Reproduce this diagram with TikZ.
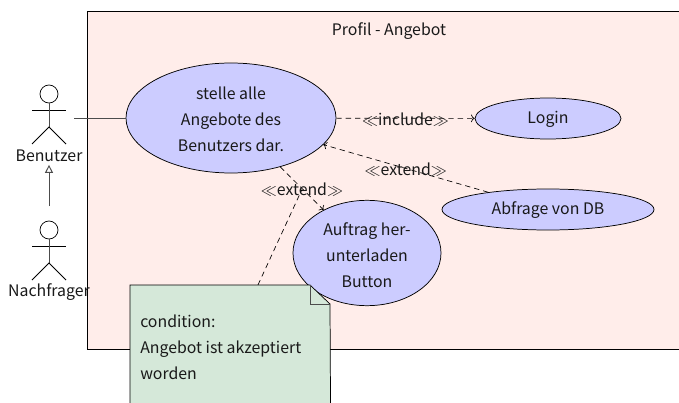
\documentclass[tikz,border=0pt]{standalone}
\usepackage{xcolor}
\usepackage{fontspec}
\setmainfont{Noto Sans CJK SC}
\usetikzlibrary{shapes,arrows,arrows.meta,positioning}
\definecolor{sysfill}{HTML}{FFEDEA}
\definecolor{casefill}{HTML}{CCCCFF}
\definecolor{notefill}{HTML}{D5E8D9}
\newcommand{\casestrut}[1]{\rule{0pt}{#1}}
\tikzstyle{line} = [draw, line width=0.5pt, dash pattern=on 4pt off 3pt, ->]
\tikzstyle{assoc} = [draw, black!70, line width=0.7pt]
\tikzstyle{usecase} = [draw, line width=0.55pt, ellipse, fill=casefill, align=center, inner sep=0pt]
\tikzstyle{actorhead} = [draw, line width=0.55pt, circle, minimum size=13.5pt, inner sep=0pt]
\tikzstyle{actorname} = [inner sep=0pt, yshift=-0.75pt]
\tikzstyle{rellabel} = [inner sep=0pt, yshift=-0.75pt]
\tikzset{
  actor/.pic={
    \draw[line width=0.55pt] (-17,0) -- (17,0);
    \draw[black!70, line width=0.7pt] (0,-7) -- (0,17);
    \draw[line width=0.55pt] (-17,34) -- (0,17) -- (17,34);
  }
}
\begin{document}
\begin{tikzpicture}[x=0.75pt, y=-0.75pt, font=\fontsize{11.9}{19.5}\selectfont, every node/.style={text=black!90}]
    \useasboundingbox (0,0) rectangle (679,403);
    % System
    \node [draw, line width=0.55pt, fill=sysfill, minimum width=444pt, minimum height=253.5pt, inner sep=0pt, anchor=north west] (system) at (87,11) {};
    \node [inner sep=0pt] (title) at (389,31) {Profil - Angebot};

    % Place nodes
    \node [usecase, minimum width=157.5pt, minimum height=82.5pt] (main) at (231,118) {\casestrut{11pt}stelle alle\\Angebote des\\Benutzers dar.};
    \node [usecase, minimum width=109.5pt, minimum height=30.75pt] (login) at (548,118.5) {\casestrut{11pt}Login};
    \node [usecase, minimum width=159pt, minimum height=30.75pt] (db) at (548,209.5) {\casestrut{11pt}Abfrage von DB};
    \node [usecase, minimum width=111pt, minimum height=79pt] (button) at (367,253) {\casestrut{12.5pt}Auftrag her-\\unterladen\\Button};

    % Actors
    \node [actorhead] (benutzerhead) at (49,94) {};
    \pic at (49,110) {actor};
    \node [actorname] (benutzer) at (49,155) {Benutzer};
    \node [actorhead] (nachfragerhead) at (49,230) {};
    \pic at (49,246) {actor};
    \node [actorname] (nachfrager) at (49,291) {Nachfrager};
    \coordinate (benutzerhand) at (74,118);

    \path [assoc] (benutzerhand) -- (main);
    \path [assoc, -{Triangle[open, length=6pt, width=6pt]}, shorten >=2pt] (nachfragerhead) ++(0,-24) -- (benutzer);

    % Relations
    \path [line] (main) -- node [rellabel] (inc) {$\ll$include$\gg$} (login);
    \path [line] (db) -- node [rellabel] (ext) {$\ll$extend$\gg$} (main);
    \path [line] (main) -- node [rellabel] (extbutton) {$\ll$extend$\gg$} (button);

    % Note
    \node [anchor=north west, minimum width=150pt, minimum height=90pt, inner sep=0pt] (note) at (130,285) {};
    \path [draw, line width=0.5pt, dash pattern=on 4pt off 3pt] (note) -- (extbutton.center);
    \draw [line width=0.55pt, fill=notefill] (note.south west) -- (note.north west) -- (310,285) -- (330,304) -- (note.south east) -- cycle;
    \draw [black!70, line width=0.7pt] (310,285) -- (310,304) -- (330,304);
    \node [anchor=west, align=left, inner sep=0pt] (notetext) at (140,347) {condition:\\Angebot ist akzeptiert\\worden};
\end{tikzpicture}
\end{document}
